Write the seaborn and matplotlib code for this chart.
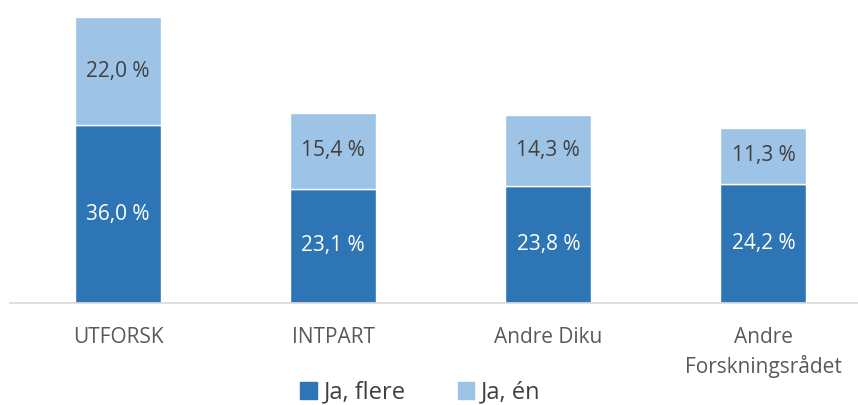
import numpy as np
import pandas as pd
import matplotlib
matplotlib.use("Agg")
import matplotlib.pyplot as plt
import seaborn as sns
from matplotlib.patches import Patch

# ============================================
# Data
# ============================================

categories = ["UTFORSK", "INTPART", "Andre Diku", "Andre\nForskningsrådet"]
ja_flere = [36.0, 23.1, 23.8, 24.2]
ja_en = [22.0, 15.4, 14.3, 11.3]
series_names = ["Ja, flere", "Ja, én"]

dark = "#2E75B6"
light = "#9DC3E6"

df = pd.DataFrame({
    "kategori": categories,
    "flere": ja_flere,
    "en": ja_en,
})

sns.set_style("white")
plt.rcParams["font.family"] = ["Open Sans", "DejaVu Sans"]

fig = plt.figure(figsize=(8.58, 4.05), dpi=100)
ax = fig.add_axes([0.0122, 0.252, 1.003, 0.731])

sns.barplot(data=df, x="kategori", y="flere", color=dark,
            width=0.4, saturation=1, ax=ax)
sns.barplot(data=df, x="kategori", y="en", color=light,
            width=0.4, saturation=1, bottom=df["flere"], ax=ax)

bars_dark = ax.containers[0]
bars_light = ax.containers[1]

ax.bar_label(bars_dark, labels=[f"{v:.1f} %".replace(".", ",") for v in ja_flere],
             label_type="center", color="white", fontsize=15)
ax.bar_label(bars_light, labels=[f"{v:.1f} %".replace(".", ",") for v in ja_en],
             label_type="center", color="#404040", fontsize=15)

ax.set_ylim(0, 60)
ax.set_xlim(-0.5, 3.5)
ax.set_xlabel("")
ax.set_ylabel("")
ax.set_yticks([])
ax.tick_params(axis="x", length=0, pad=17, labelsize=15, labelcolor="#595959")
for lbl in ax.get_xticklabels():
    lbl.set_linespacing(1.4)

for side in ["top", "right", "left"]:
    ax.spines[side].set_visible(False)
ax.spines["bottom"].set_color("#D9D9D9")
ax.spines["bottom"].set_linewidth(1.2)

handles = [Patch(color=dark), Patch(color=light)]
fig.legend(handles, series_names, loc="center", bbox_to_anchor=(0.49, 0.03),
           ncol=2, frameon=False, fontsize=17, labelcolor="#404040",
           handlelength=0.7, handleheight=0.7, handletextpad=0.3,
           columnspacing=2.2, borderpad=0)

plt.savefig("out.png", dpi=100)
